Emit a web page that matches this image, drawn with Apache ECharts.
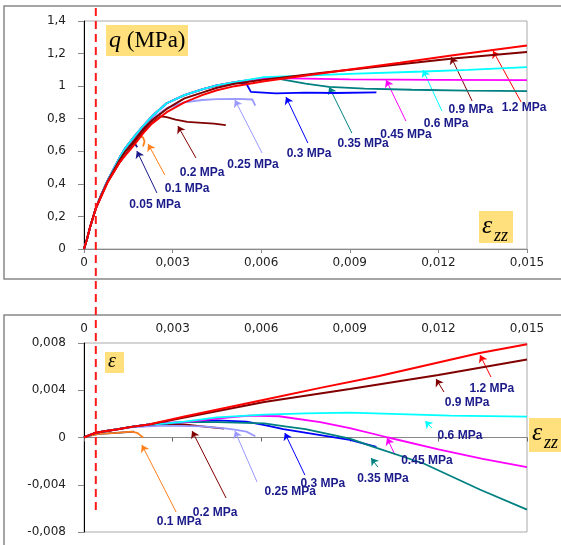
<!DOCTYPE html>
<html><head><meta charset="utf-8">
<script src="https://cdn.jsdelivr.net/npm/echarts@6/dist/echarts.min.js"></script>
<style>html,body{margin:0;padding:0;background:#fff}#c{width:561px;height:545px}</style>
</head><body><div id="c"></div>
<script>
// ---------- data ----------
const SERIES_NAMES = ['0.05 MPa','0.1 MPa','0.2 MPa','0.25 MPa','0.3 MPa','0.35 MPa','0.45 MPa','0.6 MPa','0.9 MPa','1.2 MPa'];
const SERIES_COLORS = ['#1a1a8c','#ff7f1a','#800000','#9999ff','#0000ff','#008080','#ff00ff','#00ffff','#800000','#ff0000'];
const X_TICKS = [0, 0.003, 0.006, 0.009, 0.012, 0.015];
const Q_TICKS = [0, 0.2, 0.4, 0.6, 0.8, 1, 1.2, 1.4];
const E_TICKS = [-0.008, -0.004, 0, 0.004, 0.008];
const DASH_X = 0.0004;

// q (MPa) vs eps_zz
const Q_005 = [[0,0],[0.0001,0.06],[0.0002,0.13],[0.0004,0.25],[0.0006,0.34],[0.0008,0.42],[0.001,0.485],[0.0012,0.55],[0.0014,0.605],[0.0016,0.645],[0.0017,0.655],[0.00175,0.645],[0.0018,0.625]];
const Q_01 = [[0,0],[0.0001,0.06],[0.0002,0.13],[0.0004,0.25],[0.0006,0.34],[0.0008,0.42],[0.001,0.485],[0.0012,0.55],[0.0014,0.605],[0.0016,0.65],[0.0018,0.675],[0.0019,0.69],[0.002,0.685],[0.00205,0.66],[0.002,0.63]];
const Q_02 = [[0,0],[0.0001,0.06],[0.0002,0.13],[0.0004,0.25],[0.0006,0.33],[0.0008,0.41],[0.001,0.47],[0.0012,0.53],[0.0014,0.58],[0.0017,0.65],[0.002,0.72],[0.0023,0.775],[0.0026,0.815],[0.0028,0.81],[0.0031,0.795],[0.0035,0.78],[0.004,0.775],[0.0044,0.77],[0.0048,0.76]];
const Q_025 = [[0,0],[0.0001,0.06],[0.0002,0.13],[0.0004,0.25],[0.0006,0.34],[0.0008,0.42],[0.001,0.49],[0.0012,0.555],[0.0014,0.61],[0.0017,0.68],[0.002,0.745],[0.0023,0.8],[0.0028,0.865],[0.0034,0.9],[0.004,0.915],[0.0045,0.92],[0.0052,0.922],[0.0057,0.918],[0.0058,0.88]];
const Q_03 = [[0,0],[0.0001,0.06],[0.0002,0.13],[0.0004,0.25],[0.0006,0.34],[0.0008,0.42],[0.001,0.49],[0.0012,0.56],[0.0014,0.62],[0.0017,0.69],[0.002,0.755],[0.0023,0.815],[0.0028,0.895],[0.0034,0.945],[0.004,0.98],[0.0045,1.005],[0.0051,1.02],[0.0055,1.015],[0.00565,0.965],[0.0065,0.955],[0.0075,0.96],[0.0085,0.958],[0.0099,0.962]];
const Q_035 = [[0,0],[0.0001,0.06],[0.0002,0.13],[0.0004,0.25],[0.0006,0.34],[0.0008,0.42],[0.001,0.49],[0.0012,0.56],[0.0014,0.62],[0.0017,0.69],[0.002,0.755],[0.0023,0.815],[0.0028,0.895],[0.0034,0.945],[0.004,0.98],[0.0045,1.005],[0.0051,1.025],[0.0061,1.05],[0.0066,1.045],[0.0075,1.015],[0.0083,0.995],[0.0095,0.985],[0.0111,0.978],[0.013,0.973],[0.015,0.97]];
const Q_045 = [[0,0],[0.0001,0.06],[0.0002,0.13],[0.0004,0.25],[0.0006,0.34],[0.0008,0.42],[0.001,0.49],[0.0012,0.56],[0.0014,0.62],[0.0017,0.69],[0.002,0.755],[0.0023,0.815],[0.0028,0.895],[0.0034,0.945],[0.004,0.98],[0.0045,1.005],[0.0051,1.025],[0.0061,1.05],[0.007,1.048],[0.009,1.042],[0.012,1.039],[0.015,1.037]];
const Q_06 = [[0,0],[0.0001,0.06],[0.0002,0.13],[0.0004,0.25],[0.0006,0.34],[0.0008,0.42],[0.001,0.49],[0.0012,0.56],[0.0014,0.62],[0.0017,0.69],[0.002,0.755],[0.0023,0.815],[0.0028,0.895],[0.0034,0.945],[0.004,0.98],[0.0045,1.005],[0.0051,1.025],[0.0061,1.055],[0.007,1.062],[0.009,1.075],[0.0115,1.09],[0.013,1.1],[0.015,1.117]];
const Q_09 = [[0,0],[0.0001,0.06],[0.0002,0.13],[0.0004,0.25],[0.0006,0.335],[0.0008,0.415],[0.001,0.48],[0.0012,0.545],[0.0014,0.6],[0.0017,0.665],[0.002,0.735],[0.0023,0.79],[0.0028,0.86],[0.0034,0.925],[0.004,0.96],[0.0045,0.99],[0.0051,1.015],[0.0061,1.04],[0.008,1.08],[0.0107,1.135],[0.0125,1.17],[0.015,1.21]];
const Q_12 = [[0,0],[0.0001,0.06],[0.0002,0.13],[0.0004,0.25],[0.0006,0.33],[0.0008,0.41],[0.001,0.47],[0.0012,0.53],[0.0014,0.575],[0.0017,0.64],[0.002,0.71],[0.0023,0.77],[0.0028,0.84],[0.0034,0.9],[0.004,0.945],[0.0045,0.975],[0.0051,1.0],[0.0061,1.03],[0.008,1.077],[0.0107,1.144],[0.0125,1.19],[0.015,1.25]];

// volumetric strain eps vs eps_zz
const E_005 = [[0,0],[0.0002,0.00015],[0.0005,0.0003],[0.0011,0.0004],[0.0017,0.0005]];
const E_01 = [[0,0],[0.0002,0.00015],[0.0005,0.0003],[0.0011,0.0004],[0.0016,0.0005],[0.0018,0.0004],[0.0019,0.0002],[0.002,0.0]];
const E_02 = [[0,0],[0.0002,0.00022],[0.0004,0.0004],[0.0007,0.00053],[0.0011,0.00068],[0.0016,0.0009],[0.0022,0.00105],[0.0027,0.0011],[0.0034,0.0011],[0.004,0.00095],[0.00474,0.00075]];
const E_025 = [[0,0],[0.0002,0.00022],[0.0004,0.0004],[0.0007,0.00053],[0.0011,0.00068],[0.0016,0.00085],[0.0022,0.00095],[0.0027,0.001],[0.004,0.00095],[0.0047,0.0008],[0.0051,0.00067],[0.0055,0.0005],[0.0058,0.0001]];
const E_03 = [[0,0],[0.0002,0.00022],[0.0004,0.0004],[0.0007,0.00053],[0.0011,0.00068],[0.0016,0.0009],[0.0022,0.0011],[0.0028,0.0012],[0.0034,0.0013],[0.0045,0.00145],[0.0055,0.00135],[0.0062,0.001],[0.00675,0.0007],[0.0079,0.00025],[0.009,-0.0002],[0.0099,-0.0008]];
const E_035 = [[0,0],[0.0002,0.00022],[0.0004,0.0004],[0.0007,0.00053],[0.0011,0.00068],[0.0016,0.0009],[0.0022,0.0011],[0.0028,0.0012],[0.0034,0.0013],[0.0045,0.0013],[0.0061,0.0012],[0.0068,0.00095],[0.0075,0.0007],[0.009,-0.0001],[0.0098,-0.0008],[0.0115,-0.0022],[0.0134,-0.0044],[0.015,-0.0061]];
const E_045 = [[0,0],[0.0002,0.00022],[0.0004,0.0004],[0.0007,0.00053],[0.0011,0.00068],[0.0016,0.0009],[0.0022,0.0011],[0.0028,0.00125],[0.0034,0.0013],[0.0045,0.0016],[0.0056,0.00185],[0.0066,0.0018],[0.008,0.0013],[0.009,0.0008],[0.0103,0.0],[0.012,-0.001],[0.0135,-0.0018],[0.015,-0.0025]];
const E_06 = [[0,0],[0.0002,0.00022],[0.0004,0.0004],[0.0007,0.00053],[0.0011,0.00068],[0.0016,0.0009],[0.0022,0.0011],[0.0028,0.0012],[0.0034,0.00135],[0.0045,0.0017],[0.0061,0.00194],[0.0075,0.00205],[0.009,0.0021],[0.0124,0.00185],[0.015,0.00177]];
const E_09 = [[0,0],[0.0002,0.00022],[0.0004,0.0004],[0.0007,0.00053],[0.0011,0.00068],[0.0016,0.0009],[0.0022,0.0011],[0.0028,0.0014],[0.0034,0.0017],[0.0061,0.003],[0.0066,0.0032],[0.009,0.0041],[0.012,0.0053],[0.015,0.0066]];
const E_12 = [[0,0],[0.0002,0.00022],[0.0004,0.0004],[0.0007,0.00053],[0.0011,0.00068],[0.0016,0.0009],[0.0022,0.0011],[0.0028,0.00145],[0.0034,0.00177],[0.0061,0.0032],[0.008,0.0042],[0.01,0.0052],[0.0134,0.00716],[0.015,0.0079]];

// annotations (label centre, arrow tail, arrow head) in data units
const Q_LABELS = [[0.0024,0.27],[0.00349,0.368],[0.0040,0.467],[0.00572,0.516],[0.00762,0.583],[0.00945,0.645],[0.0109,0.70],[0.01226,0.768],[0.0131,0.853],[0.0149,0.866]];
const Q_ARROWS = [
  [[0.00247,0.344],[0.00179,0.602]],
  [[0.00274,0.454],[0.00217,0.645]],
  [[0.00379,0.559],[0.00318,0.755]],
  [[0.00603,0.589],[0.00511,0.915]],
  [[0.00758,0.651],[0.00684,0.933]],
  [[0.00907,0.712],[0.0083,0.995]],
  [[0.0109,0.786],[0.01023,1.038]],
  [[0.01212,0.847],[0.01148,1.099]],
  [[0.01314,0.909],[0.01243,1.179]],
  [[0.0148,0.903],[0.01385,1.216]]
];
const E_LABEL_IDX = [1,2,3,4,5,6,7,8,9];
const E_LABELS = [[0.00322,-0.00715],[0.00444,-0.00639],[0.00698,-0.00461],[0.00809,-0.00394],[0.01012,-0.00351],[0.01161,-0.00199],[0.01273,0.00013],[0.01297,0.00292],[0.01381,0.00411]];
const E_ARROWS = [
  [[0.00312,-0.00631],[0.00196,-0.00063]],
  [[0.00481,-0.00512],[0.00366,0.00055]],
  [[0.00586,-0.00377],[0.00511,0.00055]],
  [[0.00748,-0.00318],[0.0068,0.00038]],
  [[0.00995,-0.0025],[0.00972,-0.00174]],
  [[0.01053,-0.00148],[0.01026,-0.00004]],
  [[0.01178,0.0008],[0.01155,0.0014]],
  [[0.01219,0.00385],[0.01192,0.00495]],
  [[0.01378,0.00512],[0.01341,0.00698]]
];

const Q_DATA = [Q_005,Q_01,Q_02,Q_025,Q_03,Q_035,Q_045,Q_06,Q_09,Q_12];
const E_DATA = [E_005,E_01,E_02,E_025,E_03,E_035,E_045,E_06,E_09,E_12];

// ---------- chart ----------
const LABEL_COLOR = '#1a1a8a';
const AX_FONT = {fontFamily:'DejaVu Sans', fontSize:12, color:'#222'};
function fmt(v,d){ if (Math.abs(v) < 1e-12) return '0'; return String(+v.toFixed(d)).replace('.', ','); }

const chart = echarts.init(document.getElementById('c'), null, {renderer:'canvas'});
const series = [];
Q_DATA.forEach((d,i) => {
  series.push({
    type:'line', xAxisIndex:0, yAxisIndex:0, data:d, showSymbol:false, symbol:'none',
    lineStyle:{color:SERIES_COLORS[i], width:(i>=8?2:1.8)}, animation:false, silent:true, z:2+i,
    markLine:{silent:true, animation:false, symbol:['none','arrow'], symbolSize:7, label:{show:false},
      lineStyle:{color:SERIES_COLORS[i], width:1, type:'solid'},
      data:[[{coord:Q_ARROWS[i][0]},{coord:Q_ARROWS[i][1]}]]}
  });
});
E_DATA.forEach((d,i) => {
  const li = E_LABEL_IDX.indexOf(i);
  const s = {
    type:'line', xAxisIndex:2, yAxisIndex:1, data:d, showSymbol:false, symbol:'none',
    lineStyle:{color:SERIES_COLORS[i], width:(i>=8?2:1.8)}, animation:false, silent:true, z:2+i
  };
  if (li >= 0) {
    s.markLine = {silent:true, animation:false, symbol:['none','arrow'], symbolSize:7, label:{show:false},
      lineStyle:{color:SERIES_COLORS[i], width:1, type:'solid'},
      data:[[{coord:E_ARROWS[li][0]},{coord:E_ARROWS[li][1]}]]};
  }
  series.push(s);
});
const labelStyle = {show:true, position:'inside', formatter:'{b}', color:LABEL_COLOR, opacity:1, fontWeight:'bold', fontSize:12, fontFamily:'Liberation Sans', textBorderWidth:0};
series.push({type:'scatter', xAxisIndex:0, yAxisIndex:0, symbolSize:1, itemStyle:{color:'rgba(0,0,0,0)'}, silent:true, animation:false, z:20,
  label:labelStyle, data:Q_LABELS.map((p,i)=>({value:p, name:SERIES_NAMES[i]}))});
series.push({type:'scatter', xAxisIndex:2, yAxisIndex:1, symbolSize:1, itemStyle:{color:'rgba(0,0,0,0)'}, silent:true, animation:false, z:20,
  label:labelStyle, data:E_LABELS.map((p,i)=>({value:p, name:SERIES_NAMES[E_LABEL_IDX[i]]}))});

const xBase = {type:'value', min:X_TICKS[0], max:X_TICKS[X_TICKS.length-1], interval:X_TICKS[1]-X_TICKS[0], splitLine:{show:false}};
chart.setOption({
  animation:false,
  backgroundColor:'#fff',
  grid:[
    {left:84, top:21, width:443, height:228, show:true, borderColor:'#aaa', borderWidth:1, backgroundColor:'transparent'},
    {left:84, top:343, width:443, height:189, show:true, borderColor:'#aaa', borderWidth:1, backgroundColor:'transparent'}
  ],
  xAxis:[
    Object.assign({}, xBase, {gridIndex:0, position:'bottom',
      axisLine:{show:true, onZero:false, lineStyle:{color:'#888', width:1}},
      axisTick:{show:true, length:4, lineStyle:{color:'#888'}},
      axisLabel:Object.assign({margin:8, formatter:v=>fmt(v,3)}, AX_FONT)}),
    Object.assign({}, xBase, {gridIndex:1, position:'top',
      axisLine:{show:false, onZero:false}, axisTick:{show:false},
      axisLabel:Object.assign({margin:8, formatter:v=>fmt(v,3)}, AX_FONT)}),
    Object.assign({}, xBase, {gridIndex:1, position:'bottom',
      axisLine:{show:true, onZero:true, lineStyle:{color:'#888', width:1}},
      axisTick:{show:true, length:4, lineStyle:{color:'#666'}},
      axisLabel:{show:false}})
  ],
  yAxis:[
    {type:'value', gridIndex:0, min:Q_TICKS[0], max:Q_TICKS[Q_TICKS.length-1], interval:Q_TICKS[1]-Q_TICKS[0], splitLine:{show:false},
      axisLine:{show:true, onZero:false, lineStyle:{color:'#000', width:1}},
      axisTick:{show:true, length:6, lineStyle:{color:'#888'}},
      axisLabel:Object.assign({margin:18, formatter:v=>fmt(v,1)}, AX_FONT)},
    {type:'value', gridIndex:1, min:E_TICKS[0], max:E_TICKS[E_TICKS.length-1], interval:E_TICKS[1]-E_TICKS[0], splitLine:{show:false},
      axisLine:{show:true, onZero:false, lineStyle:{color:'#000', width:1}},
      axisTick:{show:true, length:6, lineStyle:{color:'#888'}},
      axisLabel:Object.assign({margin:18, formatter:v=>fmt(v,3)}, AX_FONT)}
  ],
  series:series
});

const dashX = chart.convertToPixel({xAxisIndex:0}, DASH_X);
const YEL = '#ffe07c';
const serif = 'Liberation Serif';
chart.setOption({graphic:[
  {type:'rect', z:-10, shape:{x:4, y:6, width:620, height:273}, style:{fill:'none', stroke:'#888', lineWidth:1.5}},
  {type:'rect', z:-10, shape:{x:4, y:315, width:620, height:300}, style:{fill:'none', stroke:'#888', lineWidth:1.5}},
  // q (MPa) box
  {type:'rect', z:50, shape:{x:106, y:25, width:82, height:31}, style:{fill:YEL}},
  {type:'text', z:51, x:109, y:41, style:{text:'{i|q}{n| (MPa)}', verticalAlign:'middle', align:'left',
    rich:{i:{fontFamily:serif, fontStyle:'italic', fontSize:24, fill:'#000'}, n:{fontFamily:serif, fontSize:23, fill:'#000'}}}},
  // eps_zz top
  {type:'rect', z:50, shape:{x:479, y:211, width:34, height:32}, style:{fill:YEL}},
  {type:'text', z:51, x:482, y:226, style:{text:'ε', fontFamily:serif, fontStyle:'italic', fontSize:26, fill:'#000', verticalAlign:'middle'}},
  {type:'text', z:51, x:494, y:236, style:{text:'zz', fontFamily:serif, fontStyle:'italic', fontSize:18, fill:'#000', verticalAlign:'middle'}},
  // eps bottom
  {type:'rect', z:50, shape:{x:105, y:352, width:19, height:21}, style:{fill:YEL}},
  {type:'text', z:51, x:108, y:362, style:{text:'ε', fontFamily:serif, fontStyle:'italic', fontSize:20, fill:'#000', verticalAlign:'middle'}},
  // eps_zz bottom
  {type:'rect', z:50, shape:{x:529, y:418, width:40, height:34}, style:{fill:YEL}},
  {type:'text', z:51, x:532, y:433, style:{text:'ε', fontFamily:serif, fontStyle:'italic', fontSize:26, fill:'#000', verticalAlign:'middle'}},
  {type:'text', z:51, x:544, y:443, style:{text:'zz', fontFamily:serif, fontStyle:'italic', fontSize:18, fill:'#000', verticalAlign:'middle'}},
  // red dashed line
  {type:'line', z:100, shape:{x1:dashX, y1:8, x2:dashX, y2:512}, style:{stroke:'#ff1a1a', lineWidth:2, lineDash:[8,5]}}
]});
</script></body></html>
